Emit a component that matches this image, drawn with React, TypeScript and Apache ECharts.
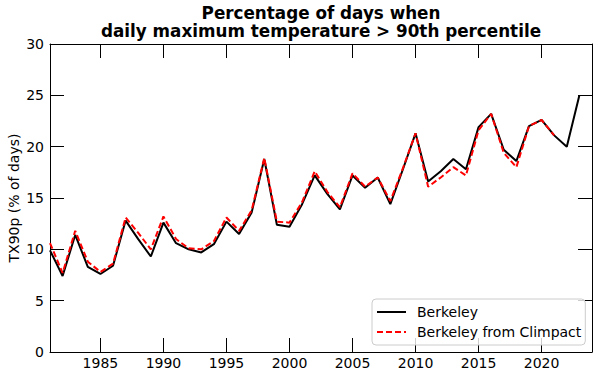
import React, { useEffect, useRef } from "react";
import * as echarts from "echarts";

const years: number[] = [
  1981, 1982, 1983, 1984, 1985, 1986, 1987, 1988, 1989, 1990, 1991, 1992, 1993, 1994, 1995,
  1996, 1997, 1998, 1999, 2000, 2001, 2002, 2003, 2004, 2005, 2006, 2007, 2008, 2009, 2010,
  2011, 2012, 2013, 2014, 2015, 2016, 2017, 2018, 2019, 2020, 2021, 2022, 2023,
];
const berkeley: number[] = [
  9.9, 7.4, 11.4, 8.3, 7.6, 8.4, 12.8, 11.0, 9.3, 12.6, 10.6, 10.0, 9.7, 10.5, 12.7,
  11.5, 13.6, 18.8, 12.4, 12.2, 14.4, 17.2, 15.4, 13.9, 17.2, 16.0, 17.0, 14.4, 17.8, 21.3,
  16.6, 17.6, 18.8, 17.8, 21.9, 23.2, 19.7, 18.6, 22.0, 22.6, 21.1, 20.0, 25.0,
];
const climpact: number[] = [
  10.6, 7.7, 11.8, 8.8, 7.8, 8.6, 13.1, 11.6, 10.0, 13.2, 11.0, 10.1, 10.0, 10.8, 13.1,
  11.8, 13.8, 18.9, 12.7, 12.6, 14.6, 17.6, 15.6, 14.1, 17.4, 16.1, 17.0, 14.7, 17.9, 21.3,
  16.1, 17.0, 18.0, 17.2, 21.6, 23.2, 19.4, 18.0, 22.0, 22.6, 21.1,
];
const xRange: number[] = [1981, 2024];
const xStep = 5;
const yTicks: number[] = [0, 5, 10, 15, 20, 25, 30];
const titleLines: string[] = [
  "Percentage of days when",
  "daily maximum temperature > 90th percentile",
];
const yLabel = "TX90p (% of days)";
const seriesNames: string[] = ["Berkeley", "Berkeley from Climpact"];

const FONT = "DejaVu Sans";

export default function App() {
  const ref = useRef<HTMLDivElement>(null);
  useEffect(() => {
    if (!ref.current) return;
    const chart = echarts.init(ref.current, null, { renderer: "svg" });
    const mkTick = () => ({ show: true, inside: true, length: 14, lineStyle: { color: "#000", width: 1 } });
    const mkLine = () => ({ show: true, onZero: false, lineStyle: { color: "#000", width: 1 } });
    const xBase = {
      type: "value",
      min: xRange[0],
      max: xRange[1],
      splitNumber: 8,
      minInterval: xStep,
      maxInterval: xStep,
      splitLine: { show: false },
      axisLine: mkLine(),
      axisTick: mkTick(),
    };
    const yBase = {
      type: "value",
      min: yTicks[0],
      max: yTicks[yTicks.length - 1],
      interval: 5,
      splitLine: { show: false },
      axisLine: mkLine(),
      axisTick: mkTick(),
    };
    chart.setOption({
      animation: false,
      grid: { left: 50, right: 8, top: 44, bottom: 22, outerBoundsMode: "none", containLabel: false },
      graphic: [
        {
          type: "text",
          x: 321,
          y: 13,
          style: {
            text: titleLines[0],
            font: `bold 16.8px "${FONT}"`,
            fill: "#000",
            textAlign: "center",
            textVerticalAlign: "middle",
          },
        },
        {
          type: "text",
          x: 321,
          y: 31,
          style: {
            text: titleLines[1],
            font: `bold 16.8px "${FONT}"`,
            fill: "#000",
            textAlign: "center",
            textVerticalAlign: "middle",
          },
        },
        {
          type: "text",
          x: 14,
          y: 198,
          rotation: Math.PI / 2,
          style: {
            text: yLabel,
            font: `14px "${FONT}"`,
            fill: "#000",
            textAlign: "center",
            textVerticalAlign: "middle",
          },
        },
      ],
      legend: {
        orient: "vertical",
        left: 372,
        top: 299,
        itemWidth: 29,
        itemHeight: 14,
        itemGap: 6,
        padding: [6, 4, 6, 4],
        borderColor: "#cccccc",
        borderWidth: 1,
        borderRadius: 4,
        backgroundColor: "rgba(255,255,255,0.8)",
        itemStyle: { opacity: 0 },
        textStyle: { fontFamily: FONT, fontSize: 14, color: "#000", padding: [0, 0, 0, 6] },
        data: seriesNames,
      },
      xAxis: [
        {
          ...xBase,
          position: "bottom",
          axisLabel: {
            showMinLabel: false,
            showMaxLabel: false,
            formatter: (v: number) => (v % xStep === 0 ? String(v) : ""),
            fontFamily: FONT,
            fontSize: 14,
            color: "#000",
            margin: 4,
          },
        },
        {
          ...xBase,
          position: "top",
          axisLabel: { show: false },
        },
      ],
      yAxis: [
        {
          ...yBase,
          position: "left",
          axisLabel: { fontFamily: FONT, fontSize: 14, color: "#000", margin: 6 },
        },
        {
          ...yBase,
          position: "right",
          axisLabel: { show: false },
        },
      ],
      series: [
        {
          name: seriesNames[0],
          type: "line",
          xAxisIndex: 0,
          yAxisIndex: 0,
          symbol: "none",
          data: years.map((y, i) => [y, berkeley[i]]),
          lineStyle: { color: "#000", width: 2 },
          itemStyle: { color: "#000" },
        },
        {
          name: seriesNames[1],
          type: "line",
          xAxisIndex: 0,
          yAxisIndex: 0,
          symbol: "none",
          data: climpact.map((v, i) => [years[i], v]),
          lineStyle: { color: "#ff0000", width: 2, type: [6, 3] },
          itemStyle: { color: "#ff0000" },
        },
      ],
    });
    return () => chart.dispose();
  }, []);
  return <div ref={ref} style={{ width: 600, height: 374, position: "absolute", left: 0, top: 0 }} />;
}
